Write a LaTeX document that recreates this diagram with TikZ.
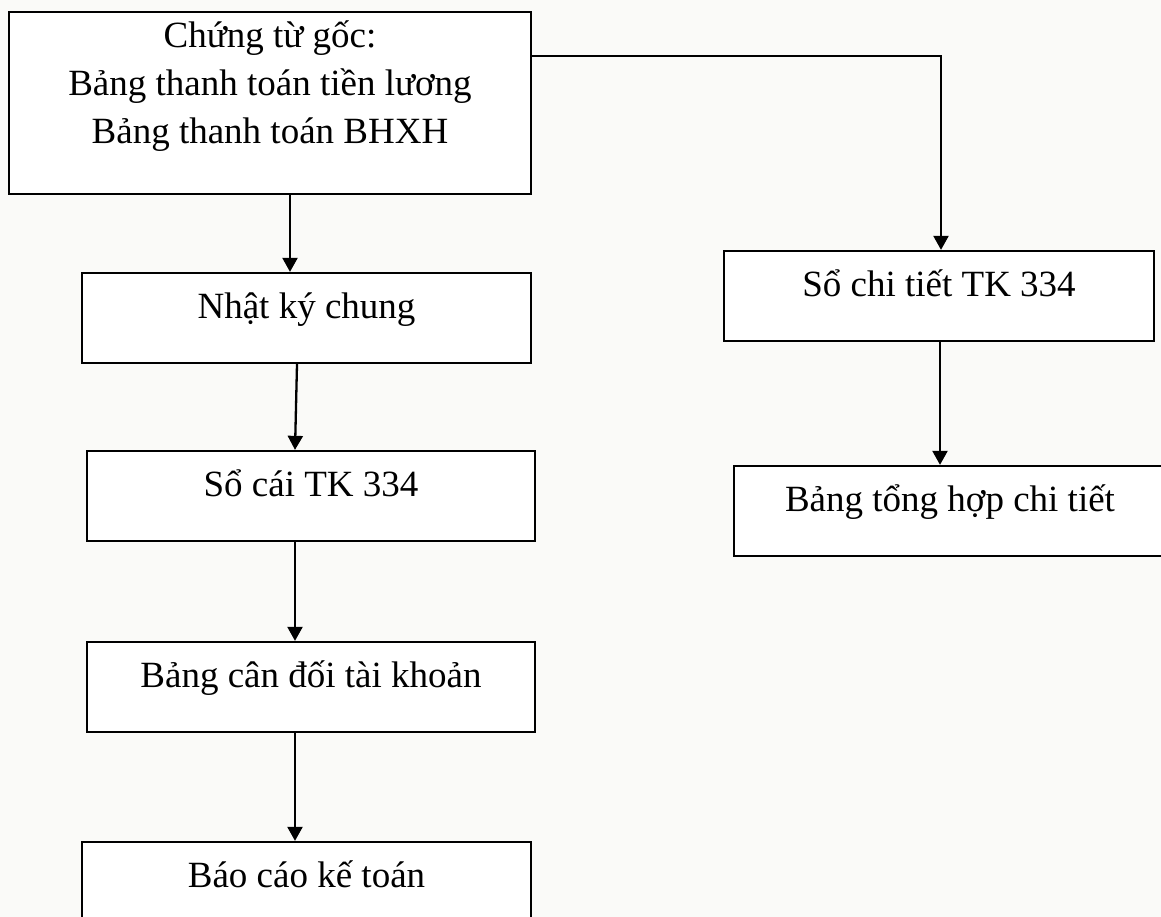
\documentclass[tikz,border=0pt]{standalone}
\usepackage{fontspec}
\setmainfont{Liberation Serif}
\usetikzlibrary{positioning,arrows.meta}
\definecolor{paper}{HTML}{FAFAF8}

\begin{document}
\begin{tikzpicture}[x=1pt,y=1pt,font=\fontsize{37}{48}\selectfont,
	box/.style={draw=black, fill=white, line width=2.3pt, inner xsep=0pt, inner ysep=0pt, text height=45pt, text depth=45pt},
	arrow/.style={draw=black, line width=2.3pt, -{Triangle[width=15pt,length=14pt]}}]
	\fill[paper] (0,0) rectangle (1161,-917);
	\clip (0,0) rectangle (1161,-917);
	% left column
	\node[box, minimum width=522pt, align=center, text height=132pt, text depth=50pt] (src) at (270,-103) {Chứng từ gốc:\\Bảng thanh toán tiền lương\\Bảng thanh toán BHXH};
	\node[box, minimum width=449pt] (nkc) at (306.5,-318) {Nhật ký chung};
	\node[box, minimum width=448pt] (socai) at (311,-496) {Sổ cái TK 334};
	\node[box, minimum width=448pt] (cdtk) at (311,-687) {Bảng cân đối tài khoản};
	\node[box, minimum width=449pt] (bckt) at (306.5,-887) {Báo cáo kế toán};
	% right column
	\node[box, minimum width=430pt] (sct) at (939,-296) {Sổ chi tiết TK 334};
	\node[box, minimum width=432pt] (thct) at (950,-511) {Bảng tổng hợp chi tiết};

	\draw[arrow] ([xshift=20pt]src.south) -- ([xshift=20pt]src.south |- nkc.north);
	\draw[arrow] ([xshift=-9.5pt]nkc.south) -- ([xshift=-16pt]socai.north);
	\draw[arrow] ([xshift=-16pt]socai.south) -- ([xshift=-16pt]cdtk.north);
	\draw[arrow] ([xshift=-16pt]cdtk.south) -- ([xshift=-16pt]cdtk.south |- bckt.north);
	\draw[arrow] ([yshift=47pt]src.east) -| ([xshift=2pt]sct.north);
	\draw[arrow] ([xshift=1pt]sct.south) -- ([xshift=1pt]sct.south |- thct.north);
\end{tikzpicture}
\end{document}
